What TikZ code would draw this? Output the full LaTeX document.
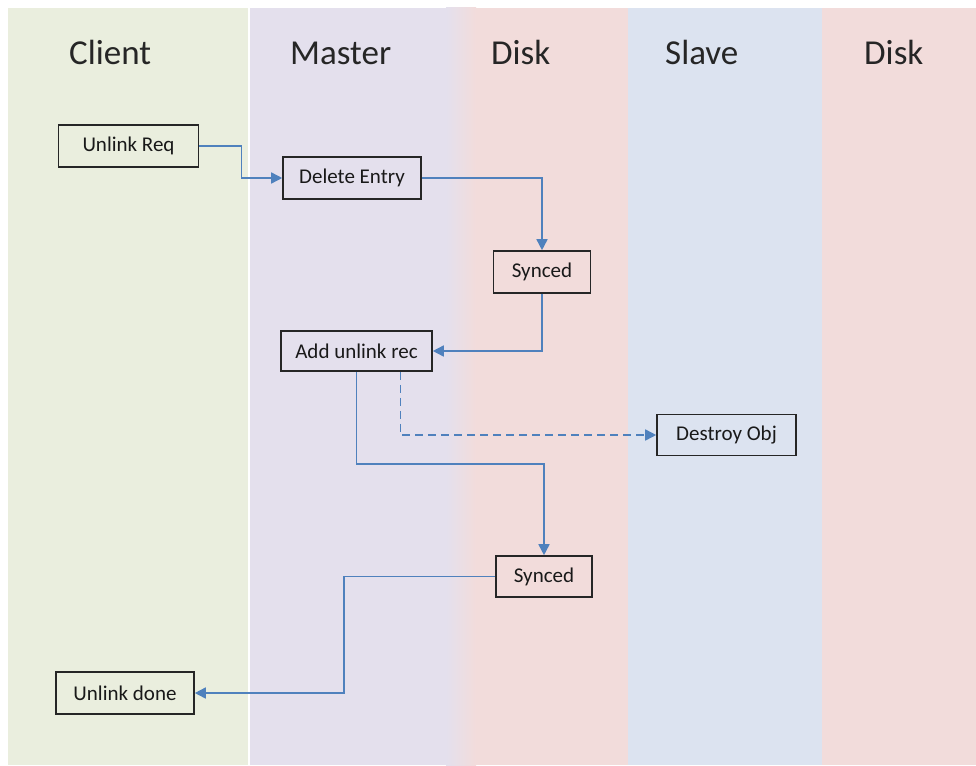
\documentclass[tikz,border=0pt]{standalone}
\usepackage{fontspec}
\setmainfont{Carlito}
\usepackage{xcolor}
\usetikzlibrary{arrows.meta}
\definecolor{client-green}{RGB}{234,238,222}
\definecolor{master-lilac}{RGB}{228,224,237}
\definecolor{disk-pink}{RGB}{242,220,219}
\definecolor{slave-blue}{RGB}{220,227,240}
\definecolor{flow-blue}{RGB}{79,129,189}
\tikzset{
    lane-title/.style = {anchor=base west, inner sep=0pt, text=black!85, font=\fontsize{35}{40}\selectfont},
    task-box/.style = {draw=black!85, line width=1.6pt, rectangle, inner sep=0pt, text=black!90, font=\fontsize{21}{24}\selectfont},
    flow-arrow/.style = {draw=flow-blue, line width=1.6pt, -{Triangle[length=11pt,width=11pt]}},
    flow-dashed/.style = {flow-arrow, dash pattern=on 8pt off 5pt},
}

\begin{document}
\begin{tikzpicture}[x=1pt, y=-1pt]
\useasboundingbox (0,0) rectangle (976,765);
\fill[white] (0,0) rectangle (976,765);
% swim lanes
\fill[client-green] (8,8) rectangle (248,765);
\fill[master-lilac] (250,8) rectangle (461,765);
\fill[disk-pink] (460,8) rectangle (628,765);
\shade[left color=master-lilac, right color=disk-pink] (446,8) rectangle (476,765);
\fill[slave-blue] (628,8) rectangle (822,765);
\fill[disk-pink] (822,8) rectangle (976,765);

\node[lane-title] (client) at (69,65) {Client};
\node[lane-title] (master) at (290,65) {Master};
\node[lane-title] (disk-a) at (491,65) {Disk};
\node[lane-title] (slave) at (665,65) {Slave};
\node[lane-title] (disk-b) at (864,65) {Disk};

% steps
\node[task-box, minimum width=140pt, minimum height=42pt] (req) at (128.5,146) {Unlink Req};
\node[task-box, minimum width=138pt, minimum height=42pt] (del) at (352,178) {Delete Entry};
\node[task-box, minimum width=97pt, minimum height=42pt] (sync-a) at (542,272) {Synced};
\node[task-box, minimum width=151pt, minimum height=40pt] (add) at (356.5,351) {Add unlink rec};
\node[task-box, minimum width=139pt, minimum height=41pt] (destroy) at (726.5,435) {Destroy Obj};
\node[task-box, minimum width=96pt, minimum height=41pt] (sync-b) at (544,576.5) {Synced};
\node[task-box, minimum width=138pt, minimum height=42pt] (done) at (125,693) {Unlink done};

% flow
\draw[flow-arrow] (req.east) -- ++(42,0) |- (del.west);
\draw[flow-arrow] (del.east) -| (sync-a.north);
\draw[flow-arrow] (sync-a.south) |- (add.east);
\draw[flow-dashed] ([xshift=44pt]add.south) |- (destroy.west);
\draw[flow-arrow] (add.south) -- ++(0,92) -| (sync-b.north);
\draw[flow-arrow] (sync-b.west) -- ++(-151,0) |- (done.east);
\end{tikzpicture}
\end{document}
